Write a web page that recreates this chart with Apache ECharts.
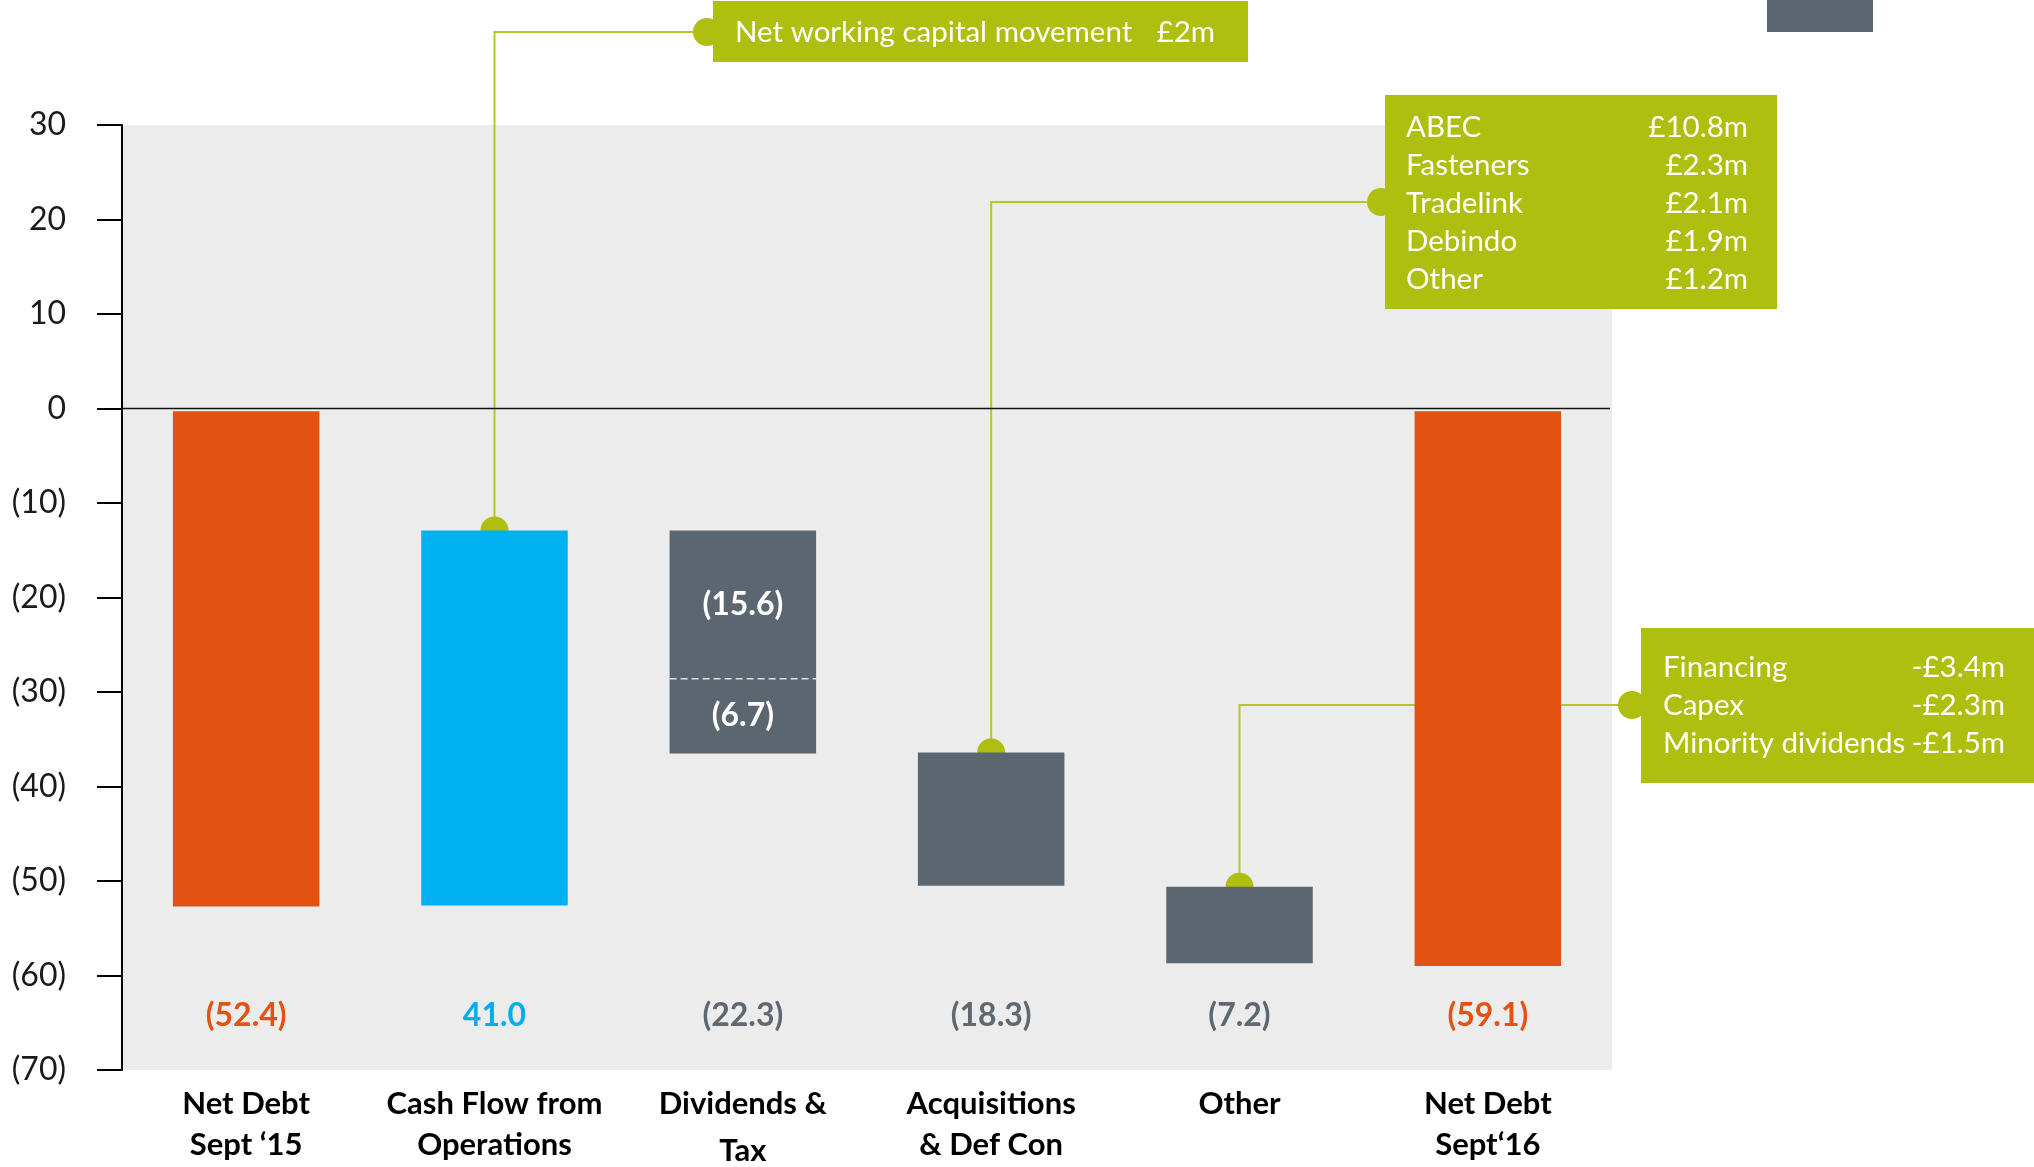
<!DOCTYPE html>
<html>
<head>
<meta charset="utf-8">
<script src="https://cdn.jsdelivr.net/npm/echarts@6/dist/echarts.min.js"></script>
<style>
    html, body { margin: 0; padding: 0; background: #fff; }
    #chart { width: 2034px; height: 1167px; }
</style>
</head>
<body>
<div id="chart"></div>
<script>
// 数据
var categories = ['Net Debt\nSept \u201815', 'Cash Flow from\nOperations', 'Dividends &\nTax', 'Acquisitions\n& Def Con', 'Other', 'Net Debt\nSept\u201816'];
var barKind = ['total', 'increase', 'decrease', 'decrease', 'decrease', 'total'];
var barTop = [-0.3, -12.9, -12.9, -36.4, -50.6, -0.3];
var barBottom = [-52.7, -52.6, -36.5, -50.5, -58.7, -59.0];
var valueLabels = ['(52.4)', '41.0', '(22.3)', '(18.3)', '(7.2)', '(59.1)'];
var divSplit = -28.6;
var divParts = ['(15.6)', '(6.7)'];
var yTicks = [-70, -60, -50, -40, -30, -20, -10, 0, 10, 20, 30];

var nwcText = 'Net working capital movement';
var nwcAmount = '\u00a32m';
var acqItems = ['ABEC', 'Fasteners', 'Tradelink', 'Debindo', 'Other'];
var acqAmounts = ['\u00a310.8m', '\u00a32.3m', '\u00a32.1m', '\u00a31.9m', '\u00a31.2m'];
var otherItems = ['Financing', 'Capex', 'Minority dividends'];
var otherAmounts = ['-\u00a33.4m', '-\u00a32.3m', '-\u00a31.5m'];

var FONT = 'Lato';
var colorOf = { total: '#E25311', increase: '#00B0EF', decrease: '#5C6670' };
var labelColorOf = { total: '#E25311', increase: '#00ADEF', decrease: '#5F6770' };
var GREEN = '#AFBF0F';
var LINE_GREEN = '#B7C52A';
var LABEL_LEVEL = -64.2;

var chart = echarts.init(document.getElementById('chart'));

function renderBar(params, api) {
    var i = api.value(0);
    var p1 = api.coord([i, api.value(1)]);
    var p2 = api.coord([i, api.value(2)]);
    var w = api.size([1, 0])[0] * 0.59;
    var kind = barKind[i];
    var children = [{
        type: 'rect',
        shape: { x: p1[0] - w / 2, y: p1[1], width: w, height: p2[1] - p1[1] },
        style: { fill: colorOf[kind] }
    }];
    if (i === 2) {
        var ps = api.coord([i, divSplit]);
        children.push({
            type: 'line',
            shape: { x1: p1[0] - w / 2, y1: ps[1], x2: p1[0] + w / 2, y2: ps[1] },
            style: { stroke: '#E0E0E0', lineWidth: 1.5, lineDash: [7, 4] }
        });
        var c1 = api.coord([i, (api.value(1) + divSplit) / 2]);
        var c2 = api.coord([i, (divSplit + api.value(2)) / 2]);
        children.push({
            type: 'text', x: c1[0], y: c1[1],
            style: { text: divParts[0], fill: '#fff', font: 'bold 32px ' + FONT, align: 'center', verticalAlign: 'middle' }
        });
        children.push({
            type: 'text', x: c2[0], y: c2[1],
            style: { text: divParts[1], fill: '#fff', font: 'bold 32px ' + FONT, align: 'center', verticalAlign: 'middle' }
        });
    }
    var pl = api.coord([i, LABEL_LEVEL]);
    children.push({
        type: 'text', x: pl[0], y: pl[1],
        style: { text: valueLabels[i], fill: labelColorOf[kind], font: 'bold 32px ' + FONT, align: 'center', verticalAlign: 'middle' }
    });
    return { type: 'group', children: children };
}

var barData = [];
$each = function (arr, fn) { for (var k = 0; k < arr.length; k++) fn(k, arr[k]); };
$each(categories, function (index, item) {
    barData.push([index, barTop[index], barBottom[index]]);
});

var option = {
    animation: false,
    grid: {
        left: 122, right: 422, top: 125, bottom: 97,
        outerBoundsMode: 'none', containLabel: false,
        show: true, backgroundColor: '#ECECEC', borderWidth: 0
    },
    xAxis: {
        type: 'category',
        data: categories,
        axisLine: { show: false },
        axisTick: { show: false },
        axisLabel: {
            margin: 13,
            interval: 0,
            color: '#000',
            fontFamily: FONT,
            fontWeight: 'bold',
            fontSize: 31,
            lineHeight: 41,
            formatter: function (value) {
                if (value.indexOf('Dividends') === 0) {
                    var parts = value.split('\n');
                    return '{a|' + parts[0] + '}\n{b|' + parts[1] + '}';
                }
                return value;
            },
            rich: {
                a: { fontFamily: FONT, fontWeight: 'bold', fontSize: 31, lineHeight: 41, color: '#000' },
                b: { fontFamily: FONT, fontWeight: 'bold', fontSize: 31, lineHeight: 54, color: '#000' }
            }
        }
    },
    yAxis: {
        type: 'value',
        min: yTicks[0],
        max: yTicks[yTicks.length - 1],
        interval: 10,
        axisLine: { show: true, lineStyle: { color: '#000', width: 2 } },
        axisTick: { show: true, length: 25, lineStyle: { color: '#000', width: 2 } },
        splitLine: { show: false },
        axisLabel: {
            margin: 56,
            color: '#1A1A1A',
            fontFamily: FONT,
            fontSize: 32,
            formatter: function (v) { return v < 0 ? '(' + (-v) + ')' : String(v); }
        }
    },
    series: [{
        type: 'custom',
        renderItem: renderBar,
        encode: { x: 0, y: [1, 2] },
        data: barData,
        z: 5
    }]
};
chart.setOption(option, true);

// 标注
function px(i, v) {
    return chart.convertToPixel({ xAxisIndex: 0, yAxisIndex: 0 }, [i, v]);
}
var g = [];
var zero1 = px(0, 0);
g.push({ type: 'line', z: 6, shape: { x1: 122, y1: zero1[1], x2: 1610, y2: zero1[1] }, style: { stroke: '#111', lineWidth: 1.5 } });

function callout(pt, yBend, xEnd) {
    g.push({ type: 'polyline', z: 1, shape: { points: [[pt[0], pt[1]], [pt[0], yBend], [xEnd, yBend]] }, style: { stroke: LINE_GREEN, lineWidth: 2, fill: null } });
    g.push({ type: 'circle', z: 2, shape: { cx: pt[0], cy: pt[1], r: 14 }, style: { fill: GREEN } });
    g.push({ type: 'circle', z: 9, shape: { cx: xEnd, cy: yBend, r: 14 }, style: { fill: GREEN } });
}
callout(px(1, barTop[1]), 32, 707);
callout(px(3, barTop[3]), 202, 1381);
callout(px(4, barTop[4]), 705, 1632);

var BOX_FONT = '29.5px ' + FONT;
// box 1
g.push({ type: 'rect', z: 10, shape: { x: 713, y: 1, width: 535, height: 61 }, style: { fill: GREEN } });
g.push({ type: 'text', z: 11, x: 735, y: 32, style: { text: nwcText, fill: '#fff', font: BOX_FONT, verticalAlign: 'middle' } });
g.push({ type: 'text', z: 11, x: 1215, y: 32, style: { text: nwcAmount, fill: '#fff', font: BOX_FONT, align: 'right', verticalAlign: 'middle' } });

// box 2
g.push({ type: 'rect', z: 10, shape: { x: 1385, y: 95, width: 392, height: 214 }, style: { fill: GREEN } });
$each(acqItems, function (index, item) {
    var y = 127 + index * 38;
    g.push({ type: 'text', z: 11, x: 1406, y: y, style: { text: item, fill: '#fff', font: BOX_FONT, verticalAlign: 'middle' } });
    g.push({ type: 'text', z: 11, x: 1748, y: y, style: { text: acqAmounts[index], fill: '#fff', font: BOX_FONT, align: 'right', verticalAlign: 'middle' } });
});

// box 3
g.push({ type: 'rect', z: 10, shape: { x: 1641, y: 628, width: 393, height: 155 }, style: { fill: GREEN } });
$each(otherItems, function (index, item) {
    var y = 667 + index * 38;
    g.push({ type: 'text', z: 11, x: 1663, y: y, style: { text: item, fill: '#fff', font: BOX_FONT, verticalAlign: 'middle' } });
    g.push({ type: 'text', z: 11, x: 2005, y: y, style: { text: otherAmounts[index], fill: '#fff', font: BOX_FONT, align: 'right', verticalAlign: 'middle' } });
});

// 右上角灰块
g.push({ type: 'rect', z: 10, shape: { x: 1767, y: 0, width: 106, height: 32 }, style: { fill: '#5C6670' } });

chart.setOption({ graphic: g });
</script>
</body>
</html>
